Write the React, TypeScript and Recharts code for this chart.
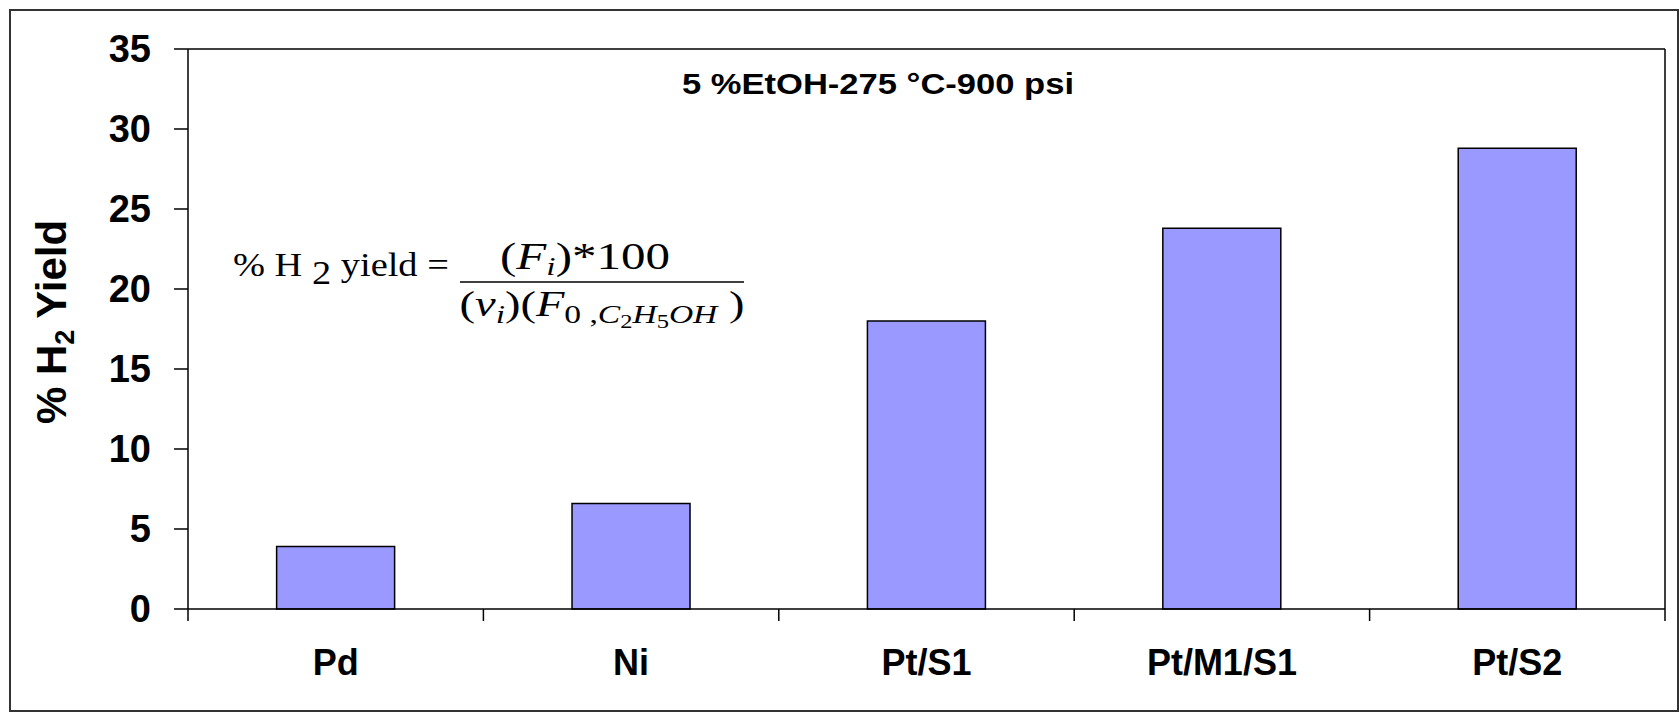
import * as React from 'react';
import {
  BarChart,
  Bar,
  XAxis,
  YAxis,
  ReferenceLine,
} from 'recharts';

const CATALYSTS = ['Pd', 'Ni', 'Pt/S1', 'Pt/M1/S1', 'Pt/S2'];
const H2_YIELD = [3.9, 6.6, 18.0, 23.8, 28.8];
const Y_TICKS = [0, 5, 10, 15, 20, 25, 30, 35];

const TITLE = '5 %EtOH-275 °C-900 psi';

const SANS = '"Liberation Sans", Arial, sans-serif';
const SERIF = '"Liberation Serif", "Times New Roman", serif';
const BAR_FILL = '#9999ff';
const LINE = { stroke: '#000', strokeWidth: 1.5 };

const data = CATALYSTS.map((name, i) => ({ name, yield: H2_YIELD[i] }));

// Excel style: tick marks sit on the category boundaries, label in the middle.
// payload.offset is half the band width from the axis scale.
function CategoryTick({ x, y, payload, index }: any) {
  const half = payload.offset ?? 0;
  return (
    <g>
      <line x1={x - half} x2={x - half} y1={y} y2={y + 12} {...LINE} />
      {index === CATALYSTS.length - 1 && (
        <line x1={x + half} x2={x + half} y1={y} y2={y + 12} {...LINE} />
      )}
      <text
        x={x}
        y={y}
        dy={66}
        textAnchor="middle"
        fill="#000"
        fontFamily={SANS}
        fontWeight="bold"
        fontSize={36}
      >
        {payload.value}
      </text>
    </g>
  );
}

function YTitle() {
  return (
    <text
      transform="translate(66,322) rotate(-90)"
      textAnchor="middle"
      fill="#000"
      fontFamily={SANS}
      fontWeight="bold"
      fontSize={42}
    >
      % H
      <tspan fontSize={27} dy={8}>2</tspan>
      <tspan dy={-8}> Yield</tspan>
    </text>
  );
}

/** The yield formula: serif text, stretched sideways like the pasted equation object. */
function Formula() {
  return (
    <g fill="#000" fontFamily={SERIF}>
      <text transform="translate(233,276) scale(1.13,1)" fontSize={34}>
        % H <tspan dy={8}>2</tspan>
        <tspan dy={-8}>{'  yield ='}</tspan>
      </text>
      <text transform="translate(585,269) scale(1.29,1)" fontSize={38} textAnchor="middle">
        (<tspan fontStyle="italic">F</tspan>
        <tspan fontStyle="italic" fontSize={26} dy={6}>i</tspan>
        <tspan dy={-6}>)*100</tspan>
      </text>
      <line x1={460} x2={744} y1={282} y2={282} stroke="#000" strokeWidth={1.5} />
      <text transform="translate(602,316) scale(1.29,1)" fontSize={36} textAnchor="middle">
        (<tspan fontStyle="italic">ν</tspan>
        <tspan fontStyle="italic" fontSize={26} dy={7}>i</tspan>
        <tspan dy={-7}>)(</tspan>
        <tspan fontStyle="italic">F</tspan>
        <tspan fontSize={26} dy={7}>0 ,</tspan>
        <tspan fontStyle="italic" fontSize={26}>C</tspan>
        <tspan fontSize={19} dy={5}>2</tspan>
        <tspan fontStyle="italic" fontSize={26} dy={-5}>H</tspan>
        <tspan fontSize={19} dy={5}>5</tspan>
        <tspan fontStyle="italic" fontSize={26} dy={-5}>OH</tspan>
        <tspan dy={-7}> )</tspan>
      </text>
    </g>
  );
}

export default function App() {
  return (
    <div style={{ position: 'absolute', left: 0, top: 0, width: 1679, height: 712, background: '#fff' }}>
      <div
        style={{
          position: 'absolute',
          left: 9,
          top: 9,
          width: 1666,
          height: 699,
          border: '2px solid #333',
        }}
      />
      <BarChart
        width={1679}
        height={712}
        data={data}
        margin={{ top: 49, right: 14, left: 0, bottom: 0 }}
        barCategoryGap="30%"
      >
        <XAxis
          dataKey="name"
          height={103}
          tickLine={false}
          tickSize={0}
          tickMargin={0}
          interval={0}
          axisLine={LINE}
          tick={<CategoryTick />}
        />
        <YAxis
          domain={[0, 35]}
          ticks={Y_TICKS}
          interval={0}
          width={188}
          tickSize={14}
          tickMargin={23}
          axisLine={LINE}
          tickLine={LINE}
          tick={{ fill: '#000', fontSize: 38, fontWeight: 'bold', fontFamily: SANS }}
        />
        <ReferenceLine y={35} stroke="#000" strokeWidth={1.5} ifOverflow="visible" />
        <ReferenceLine
          x={CATALYSTS[CATALYSTS.length - 1]}
          position="end"
          stroke="#000"
          strokeWidth={1.5}
          ifOverflow="visible"
        />
        <Bar
          dataKey="yield"
          fill={BAR_FILL}
          stroke="#000"
          strokeWidth={1.5}
          isAnimationActive={false}
        />
        <text
          x={878}
          y={94}
          textAnchor="middle"
          textLength={392}
          lengthAdjust="spacingAndGlyphs"
          fill="#000"
          fontFamily={SANS}
          fontWeight="bold"
          fontSize={29}
        >
          {TITLE}
        </text>
        <YTitle />
        <Formula />
      </BarChart>
    </div>
  );
}
